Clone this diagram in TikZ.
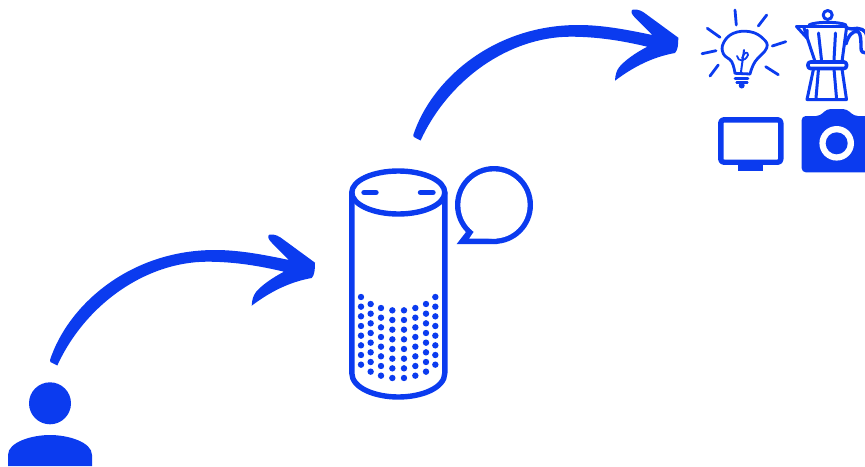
\documentclass[tikz,border=0pt]{standalone}
\definecolor{brandblue}{HTML}{0B3BEF}
\tikzset{
  ink/.style={draw=brandblue,line width=#1,line join=round,line cap=round},
  ink/.default=2.8pt,
  solidink/.style={fill=brandblue,draw=none},
  brusharrow/.pic={
    \fill[brandblue]
      (50,360) .. controls (68,305) and (130,250) .. (215,250)
      .. controls (240,250) and (265,255) .. (289,260)
      -- (272,243) .. controls (268,239) and (267,236) .. (269.5,234.5)
      .. controls (275,234) and (279,236) .. (284,240)
      -- (315,262.7) .. controls (315,270) and (314.5,275) .. (311.7,278)
      .. controls (295,281) and (275,288) .. (251.7,305.7)
      .. controls (252,300) and (253,296) .. (256,292)
      .. controls (262,285) and (272,278) .. (284,271.7)
      .. controls (260,266) and (235,261.7) .. (207,261.7)
      .. controls (145,262) and (85,305) .. (57.3,365.5)
      -- (50.5,362) -- cycle;
  }
}
\begin{document}
\begin{tikzpicture}[x=1pt,y=-1pt]
\useasboundingbox (0,0) rectangle (865,466);
\clip (0,0) rectangle (865,466);
% arrows
\pic at (0,0) {brusharrow};
\pic at (363.3,-225) {brusharrow};
% person
\fill[solidink] (50,403.3) circle (21);
\fill[solidink] (8,466) -- (8,455) .. controls (8,442) and (32,435) .. (50,435)
  .. controls (68,435) and (92,442) .. (92,455) -- (92,466) -- cycle;
% speaker
\draw[ink=5.4pt] (398.3,192.5) ellipse (46.5 and 21.5);
\draw[ink=5.4pt] (351.8,192.5) -- (351.8,373) .. controls (351.8,388) and (375,397) .. (398.3,397)
  .. controls (421.6,397) and (444.8,388) .. (444.8,373) -- (444.8,192.5);
\draw[ink=5.4pt] (364,192.5) -- (376,192.5);
\draw[ink=5.4pt] (420.5,192.5) -- (433,192.5);
\foreach \xx/\yy/\nn in {63/411/8,92/432/8,123/444/8,157/451/8,192/451/8,226/444/8,258/432/8,286/411/8}{
  \foreach \ii in {1,...,\nn}{
    \fill[brandblue] ({340+\xx/3},{160+(\yy+(\ii-1)*29)/3}) circle (3.2);
  }
}
% speech bubble
\fill[brandblue] (494,205) circle (39);
\fill[brandblue] (466,232) -- (456.7,244) -- (497,244) -- cycle;
\fill[white] (494,205) circle (33.6);
\fill[white] (474,231.5) -- (469.3,238.5) -- (497,238.5) -- cycle;
% light bulb rays
\foreach \ax/\ay/\bx/\by in {735/10/736.3/25, 766.7/15/758.3/26, 785.7/41.7/772.3/46, 778.3/74.7/765.7/66.7,
  718.3/65/710/76, 716/50.7/702/53.7, 720/37.3/707.3/28.3}{
  \draw[ink=2.8pt] (\ax,\ay) -- (\bx,\by);
}
% bulb
\draw[ink=2.8pt] plot[smooth,tension=0.7] coordinates {(735,73.3) (731.7,61.7) (723.5,54) (723.3,43.3) (733.3,33.3) (750,31.7) (763,38.5) (766.7,48) (755,61.7) (750,74)};
\draw[ink=2.8pt] (735,73.3) -- (750,74);
\draw[ink=2.8pt] (735,78.3) -- (748,78.3);
\draw[ink=2.8pt] (736.7,82.3) -- (747.3,82.3);
\fill[brandblue] (741.7,85.5) circle (3);
\draw[ink=2pt] (741,72) .. controls (742,64) and (743,58) .. (744,50);
\draw[ink=1.8pt] (737,56) .. controls (738,62) and (745,62) .. (748,55) .. controls (748,51) and (744,52) .. (742,58);
% moka pot
\draw[ink=3pt] (827.7,15) circle (4.5);
\draw[ink=3pt] (809,25) .. controls (815,21.5) and (840,21.5) .. (846,25);
\draw[ink=3pt] (796.5,26.5) -- (846.5,26.5);
\draw[ink=3pt] (796.5,26.5) -- (807,38) -- (807,30);
\draw[ink=3pt] (804,28) -- (815,61.5);
\draw[ink=3pt] (846.5,28) -- (842,61.5);
\draw[ink=3pt] (818.5,33) -- (821.5,60);
\draw[ink=3pt] (835.5,33) -- (834,60);
\draw[ink=3.6pt,rounded corners=2.5pt] (808,62) rectangle (846.5,68.5);
\draw[ink=3pt] (813.5,69) -- (807,99.5) -- (846.5,99.5) -- (842,69);
\draw[ink=3pt] (818.5,69) -- (816,98);
\draw[ink=3pt] (834,69) -- (836.5,98);
\draw[ink=3.4pt] (846,44) .. controls (848,36) and (853,30) .. (858,31.5)
  .. controls (861,33) and (861,42) .. (861,48) .. controls (861,52) and (863,53) .. (866,53);
\draw[ink=3.4pt] (846,28) -- (852,29) .. controls (860,27) and (866,30) .. (867,36);
% television
\draw[ink=5.4pt,rounded corners=3pt] (720.8,119.8) rectangle (780.8,162.2);
\fill[solidink] (738.3,163) rectangle (762.7,171);
% camera
\fill[solidink,rounded corners=4pt] (801.7,172.3) -- (801.7,116) -- (820,116) -- (826.7,109) -- (846.7,109) -- (854,116) -- (880,116) -- (880,172.3) -- cycle;
\fill[white] (836.7,143.3) circle (17.3);
\fill[brandblue] (836.7,143.3) circle (11);
\end{tikzpicture}
\end{document}
